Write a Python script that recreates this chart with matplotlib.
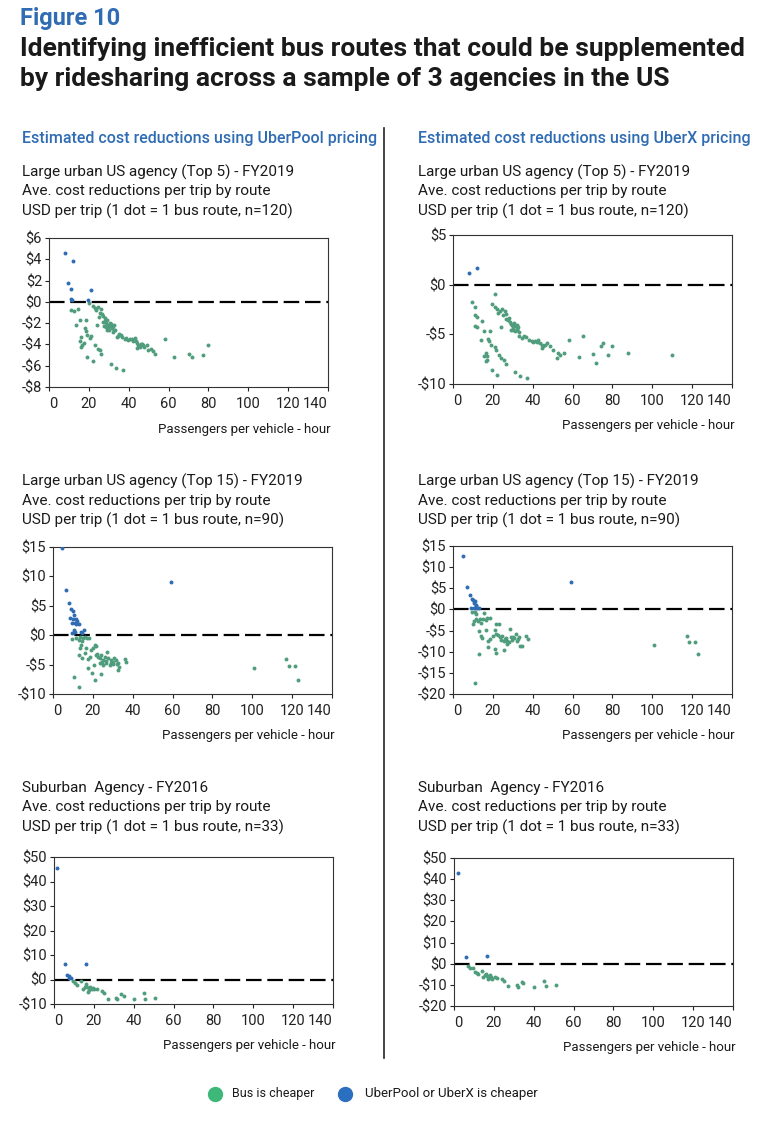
import matplotlib.pyplot as plt
from matplotlib.lines import Line2D

plt.rcParams['font.family'] = ['Roboto', 'DejaVu Sans']

W, H = 765, 1122
GREEN = '#4f9d7c'
BLUE = '#2f6cb3'

# ---- data (x = passengers per vehicle-hour, y = USD per trip) ----
# UberPool, Top 5 agency
pool5_uber_x = [8.2, 11.9, 9.6, 11.2, 11.1, 11.7, 21.3, 19.6]
pool5_uber_y = [4.6, 3.8, 1.8, 1.25, 0.3, 0.2, 1.1, 0.2]
pool5_bus_x = [11.2, 12.4, 14.6, 13.4, 15.6, 18.5, 17.9, 18.5, 19.1, 16.3, 15.4, 16.8, 17.4, 16.3,
               21.0, 20.8, 23.0, 24.7, 25.5, 26.3, 19.3, 22.3, 31.0, 33.4, 37.1,
               20.1, 22.1, 23.5, 24.7, 26.3, 25.5, 27.2, 25.2, 28.0, 28.9, 28.5, 29.7, 27.7, 28.5,
               30.5, 31.4, 32.2, 30.2, 31.9, 33.0, 29.2, 30.5, 32.7, 24.2, 33.9, 35.2, 35.9, 38.6,
               39.8, 41.4, 42.3, 43.1, 44.0, 44.8, 45.7, 46.5, 44.3, 47.3, 49.0, 49.8, 52.4, 53.2,
               58.2, 62.8, 70.0, 71.6, 77.5, 80.0,
               28.2, 29.5, 31.0, 32.5, 27.0, 26.5, 23.0, 34.5, 36.5, 38.0, 40.5, 43.5, 46.0, 47.8, 51.0]
pool5_bus_y = [-0.75, -0.85, -0.7, -2.2, -1.7, -1.7, -2.5, -2.7, -3.1, -3.3, -3.7, -4.05, -3.9, -4.2,
               -3.2, -3.4, -4.05, -4.4, -4.5, -4.9, -5.2, -5.6, -5.8, -6.2, -6.4,
               -0.1, -0.4, -0.75, -0.45, -0.7, -1.0, -1.3, -1.4, -1.55, -1.7, -2.0, -2.2, -2.3, -2.4,
               -2.3, -2.5, -2.3, -2.65, -2.8, -2.65, -2.65, -1.95, -2.2, -2.2, -3.3, -3.0, -3.1, -3.4,
               -3.6, -3.5, -3.65, -3.4, -3.9, -4.1, -4.2, -3.95, -4.3, -4.1, -4.05, -4.5, -4.6, -4.9,
               -3.5, -5.2, -4.9, -5.2, -4.95, -4.05,
               -1.8, -2.45, -2.1, -2.6, -1.9, -1.15, -0.55, -3.2, -3.3, -3.5, -3.45, -3.7, -4.0, -4.2, -4.45]

# UberX, Top 5 agency
x5_uber_x = [8.1, 12.1]
x5_uber_y = [1.15, 1.65]
x5_bus_x = [9.6, 11.2, 11.1, 12.1, 11.2, 12.2, 14.4, 13.8, 15.6, 18.5, 17.8, 18.3, 19.0, 16.4, 17.1,
            15.4, 16.4, 17.1, 20.9, 21.5, 23.2, 24.3, 25.5, 26.5, 19.5, 22.1, 31.2, 33.6, 37.0,
            21.3, 19.8, 20.9, 22.1, 22.6, 23.8, 24.8, 26.0, 25.2, 26.5, 26.8, 28.0, 28.5, 29.4, 29.9,
            31.0, 31.9, 32.2, 30.2, 28.9, 31.0, 32.7, 24.2, 33.2, 34.4, 35.6, 38.3, 39.4, 41.1, 42.8,
            43.6, 44.5, 45.3, 46.1, 47.0, 44.7, 48.7, 50.0, 52.4, 52.9, 53.7, 55.7, 58.4, 63.0, 65.2,
            70.0, 71.6, 74.3, 75.5, 77.7, 80.0, 87.7, 110.0,
            27.5, 29.0, 30.5, 32.0, 33.0, 36.5, 40.0, 42.0]
x5_bus_y = [-1.7, -2.2, -3.1, -3.3, -4.2, -4.3, -3.7, -5.55, -4.7, -4.7, -5.5, -5.7, -6.05, -6.9, -7.15,
            -7.15, -7.65, -7.55, -6.3, -6.55, -7.05, -7.4, -7.55, -8.0, -8.55, -9.05, -8.8, -9.2, -9.4,
            -0.9, -1.95, -2.25, -2.5, -2.85, -2.7, -2.5, -2.7, -3.1, -3.0, -3.5, -3.35, -3.8, -4.05, -4.3,
            -4.2, -4.05, -4.5, -4.55, -4.55, -4.7, -4.3, -4.3, -5.2, -5.4, -5.15, -5.55, -5.7, -5.65, -5.55,
            -5.9, -6.05, -6.2, -6.05, -5.9, -6.4, -6.2, -6.6, -7.4, -6.9, -7.05, -6.9, -5.55, -7.3, -5.2,
            -6.95, -7.9, -6.15, -5.9, -7.05, -6.15, -6.9, -7.1,
            -3.6, -4.0, -3.9, -4.6, -4.8, -5.3, -5.8, -5.75]

# UberPool, Top 15 agency
pool15_uber_x = [4.7, 6.7, 8.2, 9.1, 10.1, 10.7, 8.7, 10.1, 11.4, 12.1, 10.9, 9.7, 12.8, 11.7,
                 10.4, 11.1, 9.7, 14.1, 15.4, 14.6, 59.0]
pool15_uber_y = [14.8, 7.7, 5.5, 4.4, 4.1, 3.5, 2.9, 2.8, 2.8, 2.4, 2.1, 2.1, 1.95, 1.85,
                 0.85, 0.55, 0.3, 0.55, 0.95, 0.4, 9.1]
pool15_bus_x = [9.4, 11.4, 12.8, 13.4, 15.1, 15.9, 17.1, 18.1, 14.4, 13.8, 13.4, 16.4, 12.8, 14.4,
                17.6, 18.5, 20.3, 21.0, 21.8, 21.5, 22.6, 23.5, 24.3, 25.2, 26.0, 27.2, 27.7, 23.5,
                25.2, 26.8, 28.5, 29.9, 30.7, 31.4, 31.9, 32.7, 33.2, 32.4, 35.9, 36.7, 20.6, 17.6,
                19.8, 21.0, 24.3, 10.7, 12.8, 100.7, 117.1, 118.5, 121.5, 122.8,
                22.0, 24.8, 26.5, 28.9, 30.2, 19.0, 16.0, 29.0]
pool15_bus_y = [-0.65, -0.55, -0.85, -0.3, -0.55, -0.3, -0.4, -0.45, -0.95, -1.65, -2.25, -2.25, -3.4, -3.8,
                -4.1, -3.7, -2.25, -1.7, -1.85, -3.4, -3.7, -3.95, -3.4, -4.2, -3.7, -2.8, -3.95, -4.8,
                -5.1, -4.8, -5.1, -4.5, -3.8, -4.3, -4.9, -5.9, -5.4, -4.8, -4.0, -4.6, -5.1, -5.65,
                -6.35, -7.6, -6.65, -7.1, -8.8, -5.65, -4.0, -5.2, -5.25, -7.55,
                -3.2, -4.6, -4.4, -4.2, -4.9, -2.6, -3.0, -4.75]

# UberX, Top 15 agency
x15_uber_x = [5.0, 7.0, 8.4, 9.4, 10.1, 10.9, 10.4, 11.4, 11.7, 9.2, 10.6, 12.2, 12.9, 59.1]
x15_uber_y = [12.55, 5.3, 3.35, 2.55, 2.3, 2.1, 1.55, 1.15, 0.8, 0.4, 0.4, 0.4, 0.25, 6.6]
x15_bus_x = [9.7, 10.9, 11.7, 10.1, 10.6, 11.4, 12.6, 13.4, 14.3, 15.1, 15.4, 16.4, 17.1, 18.5,
             12.8, 13.8, 14.8, 12.9, 11.0, 16.4, 17.6, 18.5, 17.8, 20.0, 20.9, 21.8, 22.9, 21.6,
             22.7, 20.9, 21.8, 23.5, 24.3, 24.6, 25.7, 25.7, 26.5, 27.3, 28.5, 29.0, 29.7, 30.7,
             31.4, 31.9, 32.7, 33.1, 33.7, 34.4, 36.7, 37.7, 27.3, 28.3, 101.0, 117.4, 118.6,
             121.6, 122.9, 26.0, 30.0]
x15_bus_y = [-0.6, -0.55, -1.0, -3.5, -2.7, -2.3, -2.7, -2.3, -3.1, -2.2, -0.8, -2.55, -1.95, -2.1,
             -5.2, -6.2, -6.75, -10.5, -17.3, -4.9, -7.4, -7.0, -8.8, -6.2, -4.9, -3.5, -3.5, -5.7,
             -6.05, -9.3, -10.3, -6.6, -7.2, -6.2, -7.4, -9.6, -6.75, -7.4, -4.65, -6.45, -7.2, -6.85,
             -5.8, -7.4, -7.0, -6.45, -8.55, -8.55, -6.2, -7.0, -8.15, -7.6, -8.4, -6.35, -7.6,
             -7.75, -10.45, -6.9, -6.5]

# UberPool, suburban agency
poolsub_uber_x = [1.5, 5.5, 16.2, 6.7, 7.5, 8.5, 7.4]
poolsub_uber_y = [45.6, 6.3, 6.3, 1.7, 1.3, 0.6, 0.6]
poolsub_bus_x = [9.7, 10.6, 11.7, 13.6, 14.4, 16.1, 16.8, 17.3, 18.1, 18.9, 17.8, 20.3, 21.8, 23.9,
                 25.1, 27.0, 31.0, 31.8, 33.7, 34.9, 39.9, 45.2, 45.7, 50.7, 15.7, 19.5]
poolsub_bus_y = [-0.75, -1.4, -2.1, -0.75, -3.8, -1.9, -2.9, -4.9, -3.2, -3.8, -4.2, -3.8, -3.8, -4.6,
                 -5.6, -7.9, -7.4, -7.9, -6.0, -6.6, -7.9, -5.6, -7.9, -7.6, -2.9, -3.5]

# UberX, suburban agency
xsub_uber_x = [1.8, 5.9, 16.4]
xsub_uber_y = [42.7, 3.4, 3.7]
xsub_bus_x = [7.0, 8.0, 9.4, 10.6, 11.4, 12.2, 13.9, 14.7, 16.1, 16.8, 17.3, 18.1, 18.6, 17.8,
              20.6, 21.8, 23.9, 25.1, 27.3, 31.5, 32.0, 34.0, 34.8, 39.9, 45.2, 46.1, 51.1, 15.5, 19.0]
xsub_bus_y = [-1.3, -2.1, -2.1, -3.7, -4.2, -5.0, -3.4, -6.2, -4.7, -5.8, -7.3, -5.3, -6.2, -6.6,
              -6.2, -6.6, -7.3, -8.1, -10.5, -10.2, -10.8, -8.5, -9.0, -10.8, -8.1, -10.5, -10.2, -5.5, -7.0]

panel_titles = [
    ["Large urban US agency (Top 5) - FY2019", "Ave. cost reductions per trip by route",
     "USD per trip (1 dot = 1 bus route, n=120)"],
    ["Large urban US agency (Top 15) - FY2019", "Ave. cost reductions per trip by route",
     "USD per trip (1 dot = 1 bus route, n=90)"],
    ["Suburban  Agency - FY2016", "Ave. cost reductions per trip by route",
     "USD per trip (1 dot = 1 bus route, n=33)"],
]
x_ticks = [0, 20, 40, 60, 80, 100, 120, 140]

# (left, right, top, bottom) in pixels, y ticks, title top y
panels = [
    dict(box=(49, 328, 238, 387), yt=[-8, -6, -4, -2, 0, 2, 4, 6], ty=172, col=0, row=0,
         bx=pool5_bus_x, by=pool5_bus_y, ux=pool5_uber_x, uy=pool5_uber_y),
    dict(box=(453, 732, 235, 384), yt=[-10, -5, 0, 5], ty=172, col=1, row=0,
         bx=x5_bus_x, by=x5_bus_y, ux=x5_uber_x, uy=x5_uber_y),
    dict(box=(53, 332, 547, 694), yt=[-10, -5, 0, 5, 10, 15], ty=481, col=0, row=1,
         bx=pool15_bus_x, by=pool15_bus_y, ux=pool15_uber_x, uy=pool15_uber_y),
    dict(box=(453, 732, 546, 694), yt=[-20, -15, -10, -5, 0, 5, 10, 15], ty=481, col=1, row=1,
         bx=x15_bus_x, by=x15_bus_y, ux=x15_uber_x, uy=x15_uber_y),
    dict(box=(54, 333, 857, 1004), yt=[-10, 0, 10, 20, 30, 40, 50], ty=788, col=0, row=2,
         bx=poolsub_bus_x, by=poolsub_bus_y, ux=poolsub_uber_x, uy=poolsub_uber_y),
    dict(box=(454, 733, 858, 1006), yt=[-20, -10, 0, 10, 20, 30, 40, 50], ty=788, col=1, row=2,
         bx=xsub_bus_x, by=xsub_bus_y, ux=xsub_uber_x, uy=xsub_uber_y),
]

fig = plt.figure(figsize=(W / 100, H / 100), dpi=100)


def fx(px):
    return px / W


def fy(py):
    return 1 - py / H


# headings
fig.text(fx(20), fy(18), "Figure 10", color='#2f6cb3', fontsize=17, fontweight='bold', va='center')
fig.text(fx(20), fy(49), "Identifying inefficient bus routes that could be supplemented",
         color='#1a1a1a', fontsize=19, fontweight='bold', va='center')
fig.text(fx(20), fy(79), "by ridesharing across a sample of 3 agencies in the US",
         color='#1a1a1a', fontsize=19, fontweight='bold', va='center')
fig.text(fx(22), fy(138), "Estimated cost reductions using UberPool pricing", color='#2f6cb3',
         fontsize=11.5, fontweight='medium', va='center')
fig.text(fx(418), fy(139), "Estimated cost reductions using UberX pricing", color='#2f6cb3',
         fontsize=11.5, fontweight='medium', va='center')

# divider
fig.add_artist(Line2D([fx(384), fx(384)], [fy(128), fy(1058)], color='#222222', lw=1.2))

for p in panels:
    l, r, t, b = p['box']
    ax = fig.add_axes([fx(l), fy(b), (r - l) / W, (b - t) / H])
    ax.scatter(p['bx'], p['by'], s=8, color=GREEN, linewidths=0, zorder=3)
    ax.scatter(p['ux'], p['uy'], s=8, color=BLUE, linewidths=0, zorder=3)
    ax.axhline(0, color='black', lw=1.6, linestyle=(0, (7, 2.6)), zorder=2)
    ax.set_xlim(0, 140)
    ax.set_ylim(p['yt'][0], p['yt'][-1])
    ax.set_xticks(x_ticks)
    ax.set_yticks(p['yt'])
    ax.set_yticklabels([("-$%d" % -v) if v < 0 else ("$%d" % v) for v in p['yt']])
    ax.tick_params(labelsize=10.5, length=3, width=0.8, colors='#222222', pad=2)
    ax.tick_params(axis='x', pad=4)
    xl = ax.get_xticklabels()
    xl[0].set_ha('left')
    xl[-1].set_ha('right')
    for s in ax.spines.values():
        s.set_linewidth(0.8)
        s.set_color('#333333')
    fig.text(fx(r + 3), fy(b + 42), "Passengers per vehicle - hour", fontsize=9.5,
             ha='right', va='center', color='#1a1a1a')
    tx = 22 if p['col'] == 0 else 418
    for i, line in enumerate(panel_titles[p['row']]):
        fig.text(fx(tx), fy(p['ty'] + i * 19.5), line, fontsize=11, va='center', color='#1a1a1a')

# legend
fig.add_artist(Line2D([fx(215)], [fy(1094)], marker='o', markersize=10, color='#3db878', lw=0))
fig.text(fx(232), fy(1094), "Bus is cheaper", fontsize=9, va='center', color='#1a1a1a')
fig.add_artist(Line2D([fx(345)], [fy(1094)], marker='o', markersize=10, color='#2b6fc0', lw=0))
fig.text(fx(365), fy(1094), "UberPool or UberX is cheaper", fontsize=9.5, va='center', color='#1a1a1a')

fig.savefig('out.png', dpi=100)
